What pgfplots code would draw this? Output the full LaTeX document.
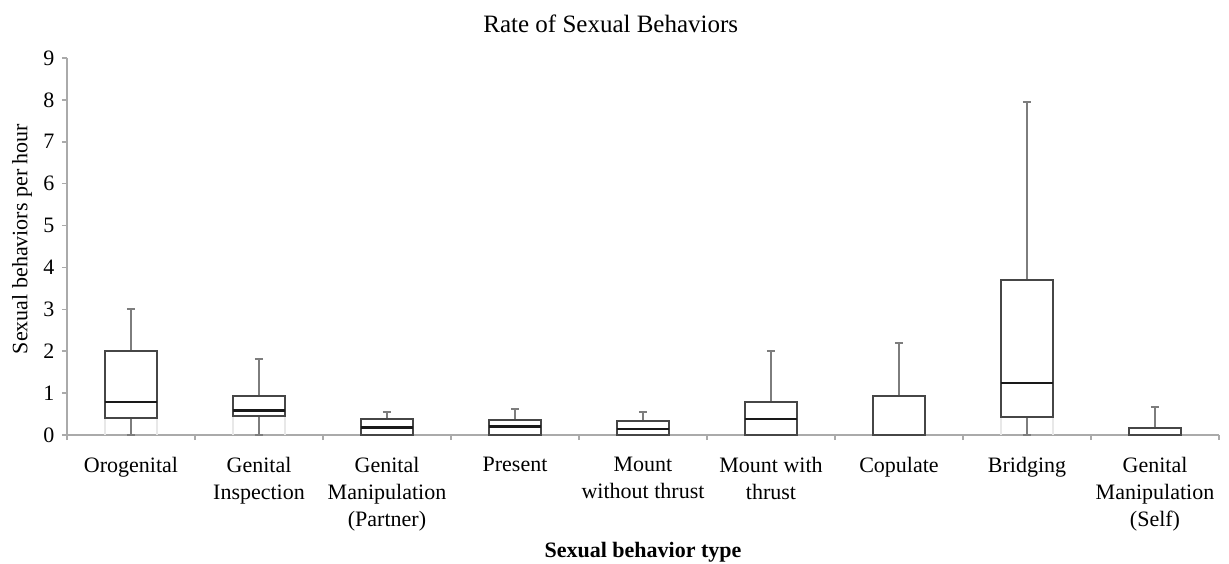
\documentclass[border=0pt]{standalone}
\usepackage{fontspec}
\setmainfont{Liberation Serif}
\usepackage{pgfplots}
\usepgfplotslibrary{statistics}
\pgfplotsset{compat=1.18}
\definecolor{axisgray}{RGB}{170,170,170}
\definecolor{boxgray}{RGB}{70,70,70}
\definecolor{whiskgray}{RGB}{125,125,125}
\definecolor{ghost}{RGB}{232,232,232}
\begin{document}
\fontsize{11}{13.5}\selectfont
\begin{tikzpicture}
\begin{axis}[
  scale only axis, width=576pt, height=188.5pt,
  xmin=-0.5, xmax=8.5, ymin=0, ymax=9,
  axis lines=left,
  axis line style={-, draw=axisgray, line width=0.9pt},
  every tick/.style={draw=axisgray, line width=0.8pt},
  tick align=outside,
  major tick length=2.5pt,
  ytick={0,1,...,9},
  /pgf/number format/assume math mode=true,
  yticklabel style={font=\fontsize{11}{13.5}\selectfont},
  xtick={-0.5,0.5,...,8.5},
  xticklabels={},
  extra x ticks={0,1,...,8},
  extra x tick labels={Orogenital, {Genital\\Inspection}, {Genital\\Manipulation\\(Partner)}, Present, {Mount\\without thrust}, {Mount with\\thrust}, Copulate, Bridging, {Genital\\Manipulation\\(Self)}},
  extra x tick style={tick style={draw=none}, xticklabel style={align=center, anchor=north, yshift=-4.5pt, font=\fontsize{11}{13.5}\selectfont}},
  title={Rate of Sexual Behaviors},
  title style={at={(axis description cs:0.472,1)}, anchor=base, yshift=7pt, font=\fontsize{12.5}{15}\selectfont},
  xlabel={Sexual behavior type},
  xlabel style={at={(axis description cs:0.5,0)}, anchor=base, yshift=-61pt, font=\fontsize{11}{13.5}\selectfont\bfseries},
  ylabel={Sexual behaviors per hour},
  ylabel style={at={(axis description cs:-0.0391,0.52)}, anchor=center, rotate=0, font=\fontsize{11}{13.5}\selectfont},
  clip=false,
  boxplot/draw direction=y,
  boxplot/box extend=0.41,
  boxplot/whisker extend=0.065,
  boxplot/every box/.style={draw=boxgray, line width=1pt},
  boxplot/every whisker/.style={draw=whiskgray, line width=1pt},
  boxplot/every median/.style={draw=black!90, line width=1.3pt},
]
% faint edge lines below boxes
\addplot[ghost, line width=0.8pt] coordinates {(-0.205,0) (-0.205,0.40)};
\addplot[ghost, line width=0.8pt] coordinates {(0.205,0) (0.205,0.40)};
\addplot[ghost, line width=0.8pt] coordinates {(0.795,0) (0.795,0.45)};
\addplot[ghost, line width=0.8pt] coordinates {(1.205,0) (1.205,0.45)};
\addplot[ghost, line width=0.8pt] coordinates {(6.795,0) (6.795,0.42)};
\addplot[ghost, line width=0.8pt] coordinates {(7.205,0) (7.205,0.42)};
% boxes
\addplot[boxplot prepared={lower whisker=0, lower quartile=0.40, median=0.79, upper quartile=2.00, upper whisker=3.00, draw position=0}] coordinates {};
\addplot[boxplot prepared={lower whisker=0, lower quartile=0.45, median=0.58, upper quartile=0.94, upper whisker=1.81, draw position=1}] coordinates {};
\addplot[boxplot prepared={lower whisker=0, lower quartile=0, median=0.18, upper quartile=0.38, upper whisker=0.54, draw position=2}] coordinates {};
\addplot[boxplot prepared={lower whisker=0, lower quartile=0, median=0.21, upper quartile=0.37, upper whisker=0.61, draw position=3}] coordinates {};
\addplot[boxplot prepared={lower whisker=0, lower quartile=0, median=0.14, upper quartile=0.34, upper whisker=0.54, draw position=4}] coordinates {};
\addplot[boxplot prepared={lower whisker=0, lower quartile=0, median=0.38, upper quartile=0.78, upper whisker=2.00, draw position=5}] coordinates {};
\addplot[boxplot prepared={lower whisker=0, lower quartile=0, median=0, upper quartile=0.94, upper whisker=2.20, draw position=6}, boxplot/every median/.style={draw=boxgray, line width=1pt}] coordinates {};
\addplot[boxplot prepared={lower whisker=0, lower quartile=0.42, median=1.24, upper quartile=3.70, upper whisker=7.95, draw position=7}] coordinates {};
\addplot[boxplot prepared={lower whisker=0, lower quartile=0, median=0, upper quartile=0.17, upper whisker=0.67, draw position=8}, boxplot/every median/.style={draw=boxgray, line width=1pt}] coordinates {};
\end{axis}
\pgfresetboundingbox
\path[use as bounding box] ([xshift=-33.5pt,yshift=-64pt]current axis.south west) rectangle ([xshift=5pt,yshift=29pt]current axis.north east);
\end{tikzpicture}
\end{document}
